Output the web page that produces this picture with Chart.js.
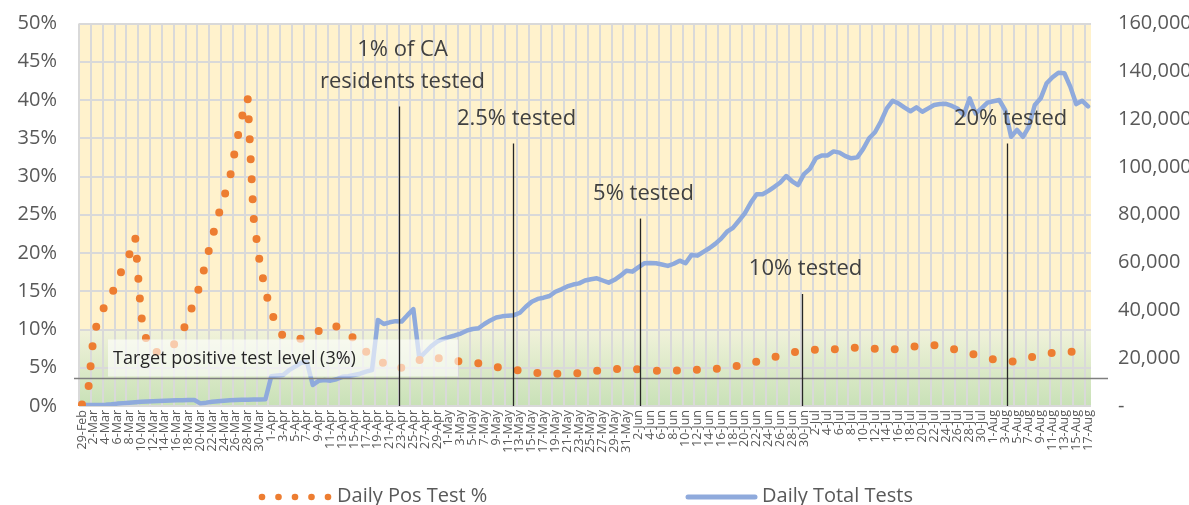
<!DOCTYPE html>
<html>
<head>
<meta charset="utf-8">
<script src="https://cdn.jsdelivr.net/npm/chart.js@4.4.1/dist/chart.umd.min.js"></script>
<style>
  html, body { margin: 0; padding: 0; background: #fff; }
  canvas { display: block; }
</style>
</head>
<body>
<canvas id="chart" width="1189" height="505"></canvas>
<script>
// Categories: one per day, 29-Feb through 17-Aug
const monthNames = ['Jan', 'Feb', 'Mar', 'Apr', 'May', 'Jun', 'Jul', 'Aug'];
const dayLabels = [];
for (let d = new Date(2020, 1, 29); d <= new Date(2020, 7, 17); d.setDate(d.getDate() + 1)) {
    dayLabels.push(d.getDate() + '-' + monthNames[d.getMonth()]);
}

// Daily positive test % (left axis)
const posTestPct = [
    0.2, 1.6, 9.5, 11.6, 13.4, 14.6, 16.3, 18.3, 19.8, 22.1,
    11.8, 8.2, 7.0, 7.1, 7.3, 7.5, 8.5, 9.7, 11.6, 13.8,
    15.9, 19.0, 22.0, 24.8, 27.3, 29.8, 34.0, 37.7, 40.3, 24.6,
    19.0, 15.0, 12.3, 10.3, 9.1, 8.8, 8.6, 8.8, 9.0, 9.3,
    9.8, 10.3, 10.7, 10.4, 10.0, 9.7, 8.7, 7.8, 7.1, 6.5,
    6.0, 5.6, 5.1, 4.85, 5.0, 5.4, 5.7, 6.0, 6.3, 6.5,
    6.3, 6.1, 5.9, 5.9, 5.8, 5.8, 5.7, 5.6, 5.4, 5.3,
    5.1, 5.0, 4.85, 4.75, 4.65, 4.5, 4.4, 4.3, 4.25, 4.2,
    4.2, 4.2, 4.2, 4.2, 4.3, 4.4, 4.5, 4.6, 4.7, 4.8,
    4.8, 4.85, 4.85, 4.85, 4.8, 4.7, 4.6, 4.6, 4.6, 4.6,
    4.6, 4.65, 4.7, 4.7, 4.75, 4.8, 4.8, 4.85, 4.95, 5.05,
    5.15, 5.3, 5.45, 5.6, 5.8, 6.0, 6.2, 6.4, 6.6, 6.8,
    7.0, 7.1, 7.2, 7.3, 7.35, 7.4, 7.4, 7.4, 7.5, 7.55,
    7.6, 7.6, 7.55, 7.5, 7.5, 7.45, 7.4, 7.4, 7.45, 7.55,
    7.7, 7.8, 7.85, 7.9, 7.95, 7.8, 7.65, 7.5, 7.3, 7.1,
    6.9, 6.7, 6.5, 6.3, 6.1, 6.0, 5.9, 5.8, 5.9, 6.1,
    6.3, 6.5, 6.7, 6.85, 6.95, 7.0, 7.05, 7.1, 7.1, 7.1,
    7.1
];

// Daily total tests (right axis)
const totalTests = [
    400, 400, 400, 400, 500, 700, 1000, 1200, 1400, 1600,
    1800, 1900, 2000, 2100, 2200, 2300, 2400, 2400, 2500, 2500,
    1100, 1400, 1800, 2000, 2200, 2400, 2500, 2600, 2600, 2700,
    2700, 2800, 12500, 12800, 13000, 15000, 16500, 18000, 18500, 8800,
    10500, 10900, 10600, 11200, 12200, 12500, 13000, 13500, 14400, 15000,
    36000, 34300, 35000, 35500, 35300, 38000, 40500, 20000, 22500, 25000,
    26900, 28000, 28800, 29500, 30300, 31500, 32200, 32500, 34300, 35800,
    37000, 37500, 37800, 38000, 39000, 41500, 43600, 44800, 45300, 46000,
    47800, 48800, 50000, 50800, 51300, 52500, 53000, 53400, 52500, 51600,
    52800, 54500, 56600, 56200, 58000, 59700, 59800, 59700, 59200, 58600,
    59500, 60800, 59700, 63200, 62900, 64500, 66000, 67800, 70000, 72900,
    74500, 77500, 80600, 85000, 88600, 88600, 90000, 91700, 93500, 96200,
    94000, 92400, 97000, 99200, 103600, 104800, 104800, 106500, 106000, 104500,
    103600, 104000, 107500, 112000, 114500, 119000, 124500, 127700, 126500, 124800,
    123300, 124900, 123100, 124500, 125900, 126300, 126400, 125500, 124300, 121700,
    128700, 122400, 124500, 126900, 127500, 128000, 123800, 112600, 115500, 112600,
    116800, 125900, 128700, 135000, 137500, 139400, 139200, 133600, 126300, 127700,
    125300
];

// Milestone markers: day position, top of the marker line (left axis %), text
const milestonePos = [53.62, 72.89, 94.24, 121.72, 156.36];
const milestoneTop = [39.15, 34.3, 24.5, 14.64, 34.3];
const milestoneText = [['1% of CA', 'residents tested'], ['2.5% tested'], ['5% tested'], ['10% tested'], ['20% tested']];

const targetLevel = 3.6;
const targetText = 'Target positive test level (3%)';
const greenZoneTop = 10;

const leftTicks = { min: 0, max: 50, step: 5 };
const rightTicks = { min: 0, max: 160000, step: 20000 };

const FONT = "'Open Sans', 'Noto Sans', sans-serif";
const GRAY_TEXT = '#595959';
const GRID = '#D9D9D9';
const ORANGE = '#ED7D31';
const BLUE = '#8FAADC';

Chart.defaults.font.family = FONT;

// Yellow plot area with green gradient band under 10%
const backgroundPlugin = {
    id: 'zones',
    beforeDraw(chart) {
        const { ctx, chartArea: a, scales } = chart;
        ctx.save();
        ctx.fillStyle = '#FFF2CC';
        ctx.fillRect(a.left, a.top, a.right - a.left, a.bottom - a.top);
        const yTop = scales.y.getPixelForValue(greenZoneTop);
        const grad = ctx.createLinearGradient(0, yTop, 0, a.bottom);
        grad.addColorStop(0, '#F1F2DA');
        grad.addColorStop(1, '#C8E1B7');
        ctx.fillStyle = grad;
        ctx.fillRect(a.left, yTop, a.right - a.left, a.bottom - yTop);
        ctx.restore();
    }
};

// Target line, label box and milestone markers
const annotationPlugin = {
    id: 'notes',
    afterDatasetsDraw(chart) {
        const { ctx, chartArea: a, scales } = chart;
        const x = scales.x, y = scales.y;
        ctx.save();

        // target level
        const ty = y.getPixelForValue(targetLevel);
        ctx.strokeStyle = '#7F7F7F';
        ctx.lineWidth = 1.5;
        ctx.beginPath();
        ctx.moveTo(a.left - 5, ty);
        ctx.lineTo(a.right + 17, ty);
        ctx.stroke();

        ctx.fillStyle = 'rgba(255,255,255,0.6)';
        ctx.fillRect(a.left + 29, ty - 39, 350, 37);
        ctx.fillStyle = '#262626';
        ctx.font = '18px ' + FONT;
        ctx.textAlign = 'left';
        ctx.textBaseline = 'middle';
        ctx.fillText(targetText, a.left + 34, ty - 20);

        // milestones
        ctx.font = '22px ' + FONT;
        ctx.textAlign = 'center';
        milestonePos.forEach((p, i) => {
            const px = Math.round(x.getPixelForValue(p)) + 0.5;
            const top = y.getPixelForValue(milestoneTop[i]);
            ctx.strokeStyle = '#262626';
            ctx.lineWidth = 1.3;
            ctx.beginPath();
            ctx.moveTo(px, top);
            ctx.lineTo(px, a.bottom);
            ctx.stroke();
            ctx.fillStyle = '#404040';
            const lines = milestoneText[i];
            lines.forEach((t, k) => {
                ctx.fillText(t, px + 3, top - 25 - (lines.length - 1 - k) * 32);
            });
        });
        ctx.restore();
    }
};

// Legend drawn below the axis labels
const legendPlugin = {
    id: 'bottomLegend',
    afterDraw(chart) {
        const { ctx } = chart;
        const ds = chart.data.datasets;
        const cy = 496;
        ctx.save();
        // dotted sample
        ctx.fillStyle = ds[0].borderColor;
        for (let k = 0; k < 5; k++) {
            ctx.beginPath();
            ctx.arc(262 + k * 16.5, cy + 1, 3.3, 0, Math.PI * 2);
            ctx.fill();
        }
        // solid sample
        ctx.strokeStyle = ds[1].borderColor;
        ctx.lineWidth = 5;
        ctx.lineCap = 'round';
        ctx.beginPath();
        ctx.moveTo(688, cy + 1);
        ctx.lineTo(755, cy + 1);
        ctx.stroke();

        ctx.fillStyle = GRAY_TEXT;
        ctx.font = '20px ' + FONT;
        ctx.textAlign = 'left';
        ctx.textBaseline = 'middle';
        ctx.fillText(ds[0].label, 337, cy);
        ctx.fillText(ds[1].label, 762, cy);
        ctx.restore();
    }
};

// fixed axis sizes so the plot area sits where the original has it
function fixVertical(width) {
    return s => { s.width = width; s.paddingTop = 0; s.paddingBottom = 0; };
}

new Chart(document.getElementById('chart'), {
    type: 'line',
    data: {
        labels: dayLabels,
        datasets: [{
            label: 'Daily Pos Test %',
            data: posTestPct,
            yAxisID: 'y',
            borderColor: ORANGE,
            borderWidth: 8,
            borderDash: [0, 20],
            borderCapStyle: 'round',
            borderJoinStyle: 'round',
            pointRadius: 0,
            tension: 0,
            fill: false
        }, {
            label: 'Daily Total Tests',
            data: totalTests,
            yAxisID: 'y1',
            borderColor: BLUE,
            borderWidth: 4.5,
            borderJoinStyle: 'round',
            borderCapStyle: 'round',
            pointRadius: 0,
            tension: 0,
            fill: false
        }]
    },
    options: {
        responsive: false,
        animation: false,
        layout: { padding: { top: 23.5, left: 0, right: 0, bottom: 0 } },
        plugins: {
            legend: { display: false },
            tooltip: { enabled: false }
        },
        scales: {
            x: {
                type: 'category',
                offset: true,
                afterFit(s) { s.height = 99; s.paddingLeft = 0; s.paddingRight = 0; },
                grid: {
                    offset: true,
                    drawTicks: false,
                    lineWidth: 2,
                    color: ctx => (ctx.index % 2 === 0 ? GRID : 'rgba(0,0,0,0)')
                },
                border: { display: false },
                ticks: {
                    autoSkip: false,
                    maxRotation: 90,
                    minRotation: 90,
                    padding: 4,
                    color: GRAY_TEXT,
                    font: { size: 12.5 },
                    callback: (v, i) => (i % 2 === 0 ? dayLabels[i] : '')
                }
            },
            y: {
                position: 'left',
                min: leftTicks.min,
                max: leftTicks.max,
                afterFit: fixVertical(79),
                grid: { color: GRID, lineWidth: 2, drawTicks: false },
                border: { display: false },
                ticks: {
                    stepSize: leftTicks.step,
                    padding: 22,
                    color: GRAY_TEXT,
                    font: { size: 20 },
                    callback: v => v + '%'
                }
            },
            y1: {
                position: 'right',
                min: rightTicks.min,
                max: rightTicks.max,
                afterFit: fixVertical(98),
                grid: { display: false, drawTicks: false },
                border: { display: false },
                ticks: {
                    stepSize: rightTicks.step,
                    padding: 27,
                    color: GRAY_TEXT,
                    font: { size: 20 },
                    callback: v => (v === 0 ? '-' : v.toLocaleString('en-US'))
                }
            }
        }
    },
    plugins: [backgroundPlugin, annotationPlugin, legendPlugin]
});
</script>
</body>
</html>
